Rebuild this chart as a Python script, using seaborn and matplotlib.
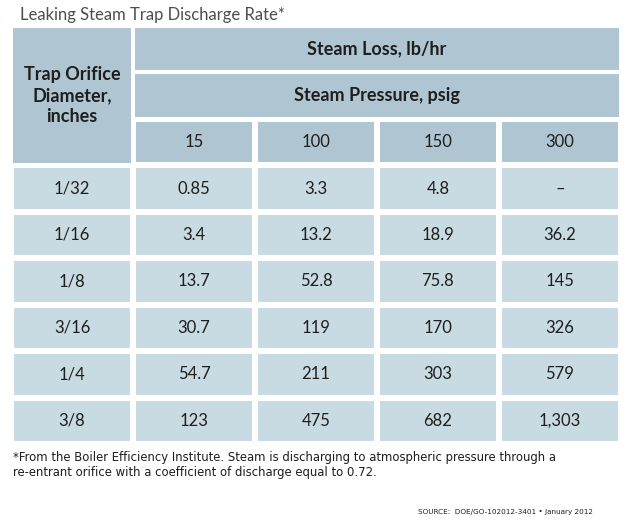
import numpy as np
import matplotlib
matplotlib.use('Agg')
import matplotlib.pyplot as plt
import seaborn as sns
from matplotlib.colors import ListedColormap
from matplotlib.patches import Rectangle

# table data
diameters = ['1/32', '1/16', '1/8', '3/16', '1/4', '3/8']
pressures = [15, 100, 150, 300]
loss_15 = [0.85, 3.4, 13.7, 30.7, 54.7, 123]
loss_100 = [3.3, 13.2, 52.8, 119, 211, 475]
loss_150 = [4.8, 18.9, 75.8, 170, 303, 682]
loss_300 = [None, 36.2, 145, 326, 579, 1303]

HEADER = '#afc6d2'
BODY = '#c9dbe2'
TEXT = '#1e1e1e'
MAIN_FONT = ['Lato', 'DejaVu Sans']


def fmt(v):
    return '–' if v is None else format(v, ',g')


n_head = 3
n_rows = n_head + len(diameters)
n_cols = 1 + len(pressures)

shade = np.zeros((n_rows, n_cols))
shade[:n_head, :] = 1

labels = np.full((n_rows, n_cols), '', dtype=object)
labels[2, 1:] = [str(p) for p in pressures]
labels[n_head:, 0] = diameters
for j, series in enumerate([loss_15, loss_100, loss_150, loss_300]):
    labels[n_head:, j + 1] = [fmt(v) for v in series]

fig = plt.figure(figsize=(6.4, 5.3), dpi=100)
ax = fig.add_axes([11 / 640, 86 / 530, 610 / 640, 418 / 530])

gap = 2.9
sns.heatmap(shade, annot=labels, fmt='', cmap=ListedColormap([BODY, HEADER]),
            cbar=False, linewidths=gap, linecolor='white', ax=ax,
            xticklabels=False, yticklabels=False,
            annot_kws={'fontsize': 12, 'color': TEXT, 'family': MAIN_FONT})

# merged header cells
for (x, y, w, h) in [(0, 0, 1, 3), (1, 0, 4, 1), (1, 1, 4, 1)]:
    ax.add_patch(Rectangle((x, y), w, h, facecolor=HEADER, edgecolor='white',
                           linewidth=gap, zorder=2))

bold = dict(fontsize=13, fontweight='bold', color=TEXT, family=MAIN_FONT,
            ha='center', va='center', zorder=3)
ax.text(0.5, 1.5, 'Trap Orifice\nDiameter,\ninches', linespacing=1.3, **bold)
ax.text(3, 0.5, 'Steam Loss, lb/hr', **bold)
ax.text(3, 1.5, 'Steam Pressure, psig', **bold)

fig.text(20 / 640, 1 - 15 / 530, 'Leaking Steam Trap Discharge Rate*',
         fontsize=12, color='#4d4d4d', family=MAIN_FONT, va='center')
fig.text(13 / 640, 1 - 465 / 530,
         '*From the Boiler Efficiency Institute. Steam is discharging to atmospheric pressure through a\n'
         're-entrant orifice with a coefficient of discharge equal to 0.72.',
         fontsize=8.4, color=TEXT, family='DejaVu Sans', va='center', linespacing=1.28)
fig.text(593 / 640, 1 - 512 / 530, 'SOURCE:  DOE/GO-102012-3401 • January 2012',
         fontsize=5.2, color=TEXT, family='DejaVu Sans', ha='right', va='center')

fig.savefig('out.png', dpi=100, facecolor='white')
